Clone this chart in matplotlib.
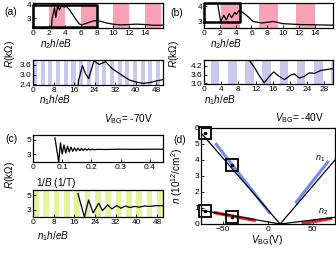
import matplotlib
matplotlib.use("Agg")
import matplotlib.pyplot as plt
import numpy as np

plt.rcParams['font.family'] = ['Liberation Sans', 'DejaVu Sans']
plt.rcParams['mathtext.fontset'] = 'custom'
plt.rcParams['mathtext.rm'] = 'Liberation Sans'
plt.rcParams['mathtext.it'] = 'Liberation Sans:italic'
plt.rcParams['mathtext.bf'] = 'Liberation Sans:bold'

# ---------------- data ----------------
# (a) V_BG = -70V
a_top_x = [2.3, 2.4, 2.7, 2.85, 3.1, 3.3, 3.6, 3.9, 4.2, 4.6, 5.0, 5.4, 5.8, 6.1, 6.5, 7.0, 7.5, 7.9,
           8.5, 9.3, 10.0, 11.0, 12.0, 13.0, 14.0, 15.0, 16.3]
a_top_r = [2.3, 3.0, 3.75, 3.05, 3.93, 3.6, 3.95, 3.8, 3.85, 3.6, 3.25, 2.9, 2.6, 2.52, 2.6, 2.7, 2.8, 2.83,
           2.78, 2.65, 2.58, 2.52, 2.55, 2.58, 2.55, 2.5, 2.5]
a_top_bands = [(2, 4), (6, 8), (10, 12), (14, 16)]
a_top_box = (0, 8, 2.37, 3.93)
a_bot_x = [17.6, 17.7, 19.3, 20.3, 21.7, 23.8, 25.8, 28.3, 31.0, 35.0, 37.6, 40.2, 42.8, 45.5, 48.0, 50.5]
a_bot_r = [2.35, 2.6, 3.55, 3.1, 2.75, 3.85, 3.62, 3.8, 3.35, 2.92, 2.66, 2.54, 2.45, 2.5, 2.6, 2.68]
a_bot_period = 3.0
a_bot_width = 1.6

# (b) V_BG = -40V
b_top_x = [1.7, 2.1, 2.5, 2.8, 3.2, 3.5, 3.9, 4.1, 4.4, 4.9, 5.6, 6.2, 7.3, 8.8, 9.9, 12.2, 16.3]
b_top_r = [4.25, 3.02, 3.41, 3.12, 3.51, 3.27, 3.6, 3.47, 3.7, 3.6, 3.31, 3.02, 2.92, 3.02, 2.88, 2.82, 2.78]
b_top_bands = [(2.2, 4.6), (6.9, 9.3), (11.6, 14.0)]
b_top_box = (0, 4.6, 2.96, 4.19)
b_bot_x = [10.5, 11.7, 13.2, 14.0, 15.2, 16.2, 17.5, 18.7, 20.2, 21.0, 22.2, 23.3, 24.5, 25.7, 27.2, 29.5, 30.0]
b_bot_r = [4.6, 4.1, 3.36, 3.04, 3.47, 3.78, 3.47, 3.25, 3.57, 3.64, 3.36, 3.47, 3.72, 3.68, 3.88, 3.99, 4.0]
b_bot_period = 4.0
b_bot_offset = 1.6
b_bot_width = 2.0

# (c)
c_top_x = [0.075, 0.088, 0.094, 0.1, 0.106, 0.112, 0.118, 0.124, 0.13, 0.136, 0.142, 0.148, 0.154, 0.16,
           0.166, 0.172, 0.178, 0.184, 0.19, 0.196, 0.202, 0.21, 0.22, 0.25, 0.3, 0.35, 0.4, 0.445]
c_top_r = [5.3, 1.9, 4.6, 3.0, 4.3, 3.15, 4.1, 3.3, 4.0, 3.4, 3.9, 3.45, 3.85, 3.5, 3.82, 3.52, 3.78, 3.55,
           3.75, 3.58, 3.72, 3.62, 3.68, 3.66, 3.7, 3.68, 3.7, 3.7]
c_bot_x = [17.4, 19.9, 21.5, 23.3, 25.4, 26.9, 28.9, 30.5, 32.4, 34.0, 35.7, 37.5, 39.2, 41.1, 43.1, 45.0,
           47.6, 50.3]
c_bot_r = [5.2, 2.0, 4.33, 2.56, 3.9, 2.87, 3.67, 3.1, 3.57, 3.2, 3.5, 3.3, 3.45, 3.35, 3.5, 3.45, 3.55, 3.55]
c_bot_period = 4.0
c_bot_width = 2.2

# (d)
d_v = [-74, 14, 75]
d_n1 = [5.7, 0.0, 4.0]
d_n2 = [0.86, 0.0, 0.42]
blue_left_v = [-58, 3]
blue_left_n = [5.05, 0.65]
blue_right_v = [31, 68]
blue_right_n = [1.3, 3.95]
red_left_v = [-60, -13]
red_left_n = [0.72, 0.22]
red_right_v = [38, 72]
red_right_n = [0.03, 0.36]
box_v = [-69, -39, -69, -39]
box_n = [5.7, 3.7, 0.8, 0.45]

# ---------------- layout ----------------
W, H = 336, 263
fig = plt.figure(figsize=(W / 100, H / 100), dpi=100)


def ax_px(x0, y0, x1, y1):
    return fig.add_axes([x0 / W, 1 - y1 / H, (x1 - x0) / W, (y1 - y0) / H])


def txt(x, y, s, **kw):
    kw.setdefault('fontsize', 7.2)
    kw.setdefault('ha', 'center')
    kw.setdefault('va', 'center')
    fig.text(x / W, 1 - y / H, s, **kw)


def style(ax):
    ax.tick_params(direction='in', length=2, width=0.6, labelsize=6, pad=1.2)
    for s in ax.spines.values():
        s.set_linewidth(0.9)


pink = '#f9a2b6'
lav = '#c9c9f0'
green = '#e3f59c'

# (a) top
ax = ax_px(33, 3, 163, 28)
for lo, hi in a_top_bands:
    ax.axvspan(lo, hi, color=pink, lw=0)
ax.plot(a_top_x, a_top_r, color='k', lw=0.9)
x0, x1, y0, y1 = a_top_box
ax.plot([x0, x1, x1, x0, x0], [y0, y0, y1, y1, y0], color='k', lw=1.8, clip_on=False)
ax.set_xlim(0, 16.3)
ax.set_ylim(2.3, 4.1)
ax.set_xticks(range(0, 15, 2))
ax.set_yticks([3, 4])
style(ax)

# (a) bottom
ax = ax_px(33, 60, 163, 85)
k = 0
while k * a_bot_period < 51:
    ax.axvspan(k * a_bot_period, k * a_bot_period + a_bot_width, color=lav, lw=0)
    k += 1
ax.plot(a_bot_x, a_bot_r, color='k', lw=0.9)
ax.set_xlim(0, 50.7)
ax.set_ylim(2.35, 3.9)
ax.set_xticks(range(0, 49, 8))
ax.set_yticks([2.4, 3.0, 3.6])
ax.set_yticklabels(['2.4', '3.0', '3.6'])
style(ax)

# (b) top
ax = ax_px(204, 3, 333, 28)
for lo, hi in b_top_bands:
    ax.axvspan(lo, hi, color=pink, lw=0)
ax.plot(b_top_x, b_top_r, color='k', lw=0.9)
x0, x1, y0, y1 = b_top_box
ax.plot([x0, x1, x1, x0, x0], [y0, y0, y1, y1, y0], color='k', lw=1.8, clip_on=False)
ax.set_xlim(0, 16.3)
ax.set_ylim(2.6, 4.2)
ax.set_xticks(range(0, 15, 2))
ax.set_yticks([3, 4])
style(ax)

# (b) bottom
ax = ax_px(204, 60, 333, 84)
k = 0
while b_bot_offset + k * b_bot_period < 30:
    s0 = b_bot_offset + k * b_bot_period
    ax.axvspan(s0, s0 + b_bot_width, color=lav, lw=0)
    k += 1
ax.plot(b_bot_x, b_bot_r, color='k', lw=0.9)
ax.set_xlim(0, 30)
ax.set_ylim(2.95, 4.6)
ax.set_xticks(range(0, 29, 4))
ax.set_yticks([3.0, 3.6, 4.2])
ax.set_yticklabels(['3.0', '3.6', '4.2'])
style(ax)

# (c) top
ax = ax_px(33, 135, 163, 162)
ax.plot(c_top_x, c_top_r, color='k', lw=0.9)
ax.set_xlim(0, 0.445)
ax.set_ylim(1.9, 5.7)
ax.set_xticks([0, 0.1, 0.2, 0.3, 0.4])
ax.set_xticklabels(['0', '0.1', '0.2', '0.3', '0.4'])
ax.set_yticks([3, 5])
style(ax)

# (c) bottom
ax = ax_px(33, 190, 163, 217)
k = 0
while k * c_bot_period < 51:
    ax.axvspan(k * c_bot_period, k * c_bot_period + c_bot_width, color=green, lw=0)
    k += 1
ax.plot(c_bot_x, c_bot_r, color='k', lw=0.9)
ax.set_xlim(0, 50.3)
ax.set_ylim(2.0, 5.7)
ax.set_xticks(range(0, 49, 8))
ax.set_yticks([3, 5])
style(ax)

# (d)
ax = ax_px(201, 128, 335, 224)
ax.plot(blue_left_v, blue_left_n, color='#6c8ef0', lw=2.2, solid_capstyle='butt')
ax.plot(blue_right_v, blue_right_n, color='#6c8ef0', lw=2.2, solid_capstyle='butt')
ax.plot(red_left_v, red_left_n, color='#e8202a', lw=2.4, solid_capstyle='butt')
ax.plot(red_right_v, red_right_n, color='#e8202a', lw=2.4, solid_capstyle='butt')
ax.plot(d_v, d_n1, color='k', lw=0.9)
ax.plot(d_v, d_n2, color='k', lw=0.9)
ax.plot(box_v, box_n, ls='none', marker='s', ms=9, mfc='none', mec='k', mew=1.3, clip_on=False)
ax.plot(box_v, box_n, ls='none', marker='o', ms=1.5, color='k')
ax.text(58, 4.05, r'$n_1$', fontsize=6.5, ha='center', va='center')
ax.text(62, 0.75, r'$n_2$', fontsize=6.5, ha='center', va='center')
ax.set_xlim(-74, 75)
ax.set_ylim(0, 6)
ax.set_xticks([-50, 0, 50])
ax.set_yticks(range(0, 7))
style(ax)

# ---------------- texts ----------------
txt(11, 12, '(a)', fontsize=7.5)
txt(177, 13, '(b)', fontsize=7.5)
txt(12, 139, '(c)', fontsize=7.5)
txt(180, 140, '(d)', fontsize=7.5)

txt(56, 44, r'$n_2h/eB$')
txt(55, 100, r'$n_1h/eB$')
txt(128, 119, r'$V_{\rm BG}$= -70V')
txt(10, 54, r'$R$(kΩ)', rotation=90)

txt(226, 44, r'$n_2h/eB$')
txt(220, 100, r'$n_1h/eB$')
txt(299, 118, r'$V_{\rm BG}$= -40V')
txt(174, 54, r'$R$(kΩ)', rotation=90)

txt(56, 183, r'$1/B$ (1/T)')
txt(53, 236, r'$n_1h/eB$')
txt(10, 175, r'$R$(kΩ)', rotation=90)

txt(267, 240, r'$V_{\rm BG}$(V)')
txt(177, 176, r'$n$ (10$^{12}$/cm$^2$)', rotation=90)

fig.savefig('out.png', dpi=100)
